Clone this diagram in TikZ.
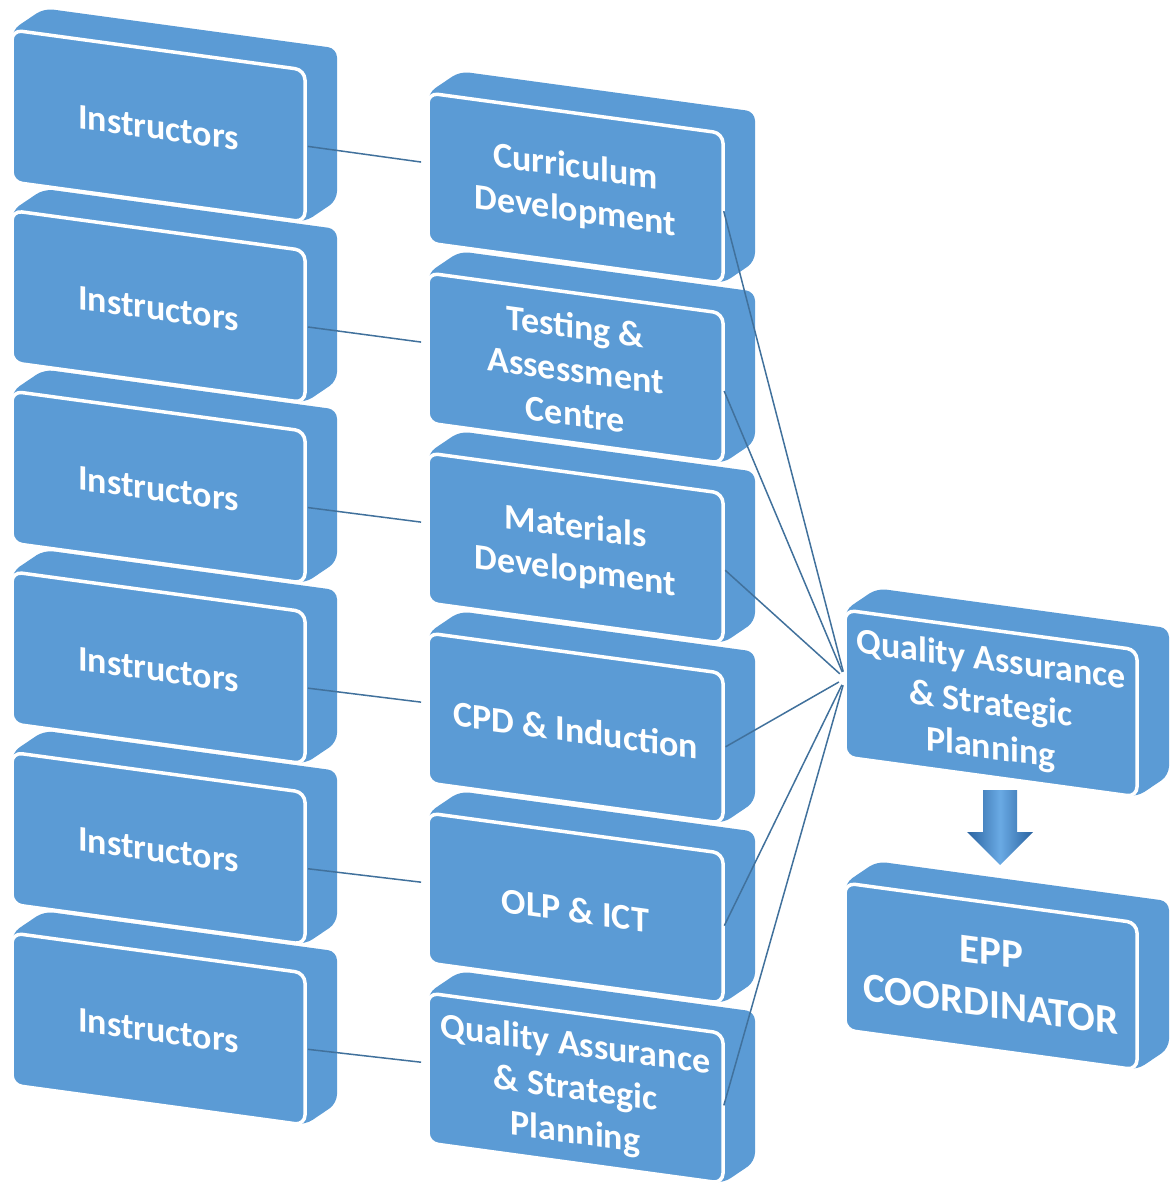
\documentclass[tikz,border=0pt]{standalone}
\usepackage{fontspec}
\setmainfont{Carlito}
\definecolor{boxblue}{HTML}{5B9BD5}
\definecolor{linkblue}{HTML}{41719C}
\definecolor{arrowdark}{HTML}{2A63A0}
\definecolor{arrowlight}{HTML}{6AAAE4}
\tikzset{
  slabback/.style={fill=boxblue, rounded corners=9pt},
  slabfront/.style={fill=boxblue, draw=white, line width=3.5pt, rounded corners=10pt},
  slabtext/.style={text=white, font=\bfseries\fontsize{36}{44}\selectfont, align=center, transform shape, inner sep=0pt},
  bigtext/.style={font=\bfseries\fontsize{41}{52}\selectfont},
  link/.style={draw=linkblue, line width=1.5pt, shorten >=7pt, shorten <=3pt},
}
% #1 name, #2 x, #3 y, #4 width, #5 height, #6 text
\newcommand\slab[7][]{%
  \begin{scope}[shift={(#3,#4)}, yslant=-0.1365]
    \fill[slabback] (0,0) -- (32,-26) -- ({#5+32},-26) -- ({#5+32},{#6-26}) -- (#5,#6) -- (0,#6) -- cycle;
    \draw[slabfront] (0,0) rectangle (#5,#6);
    \node[slabtext,#1] (#2) at ({#5/2},{#6/2+2}) {#7};
    \coordinate (#2-e) at (#5,{#6/2});
    \coordinate (#2-w) at (0,{#6/2-5});
  \end{scope}}
\begin{document}
\begin{tikzpicture}[x=1pt,y=-1pt]
\useasboundingbox (0,0) rectangle (1173,1185);
% left column
\slab{L1}{12}{30}{293}{152}{Instructors}
\slab{L2}{12}{210.6}{293}{152}{Instructors}
\slab{L3}{12}{391.2}{293}{152}{Instructors}
\slab{L4}{12}{571.8}{293}{152}{Instructors}
\slab{L5}{12}{752.4}{293}{152}{Instructors}
\slab{L6}{12}{933}{293}{152}{Instructors}
% middle column
\slab{M1}{428}{93}{295}{150}{Curriculum\\Development}
\slab{M2}{428}{273}{295}{150}{Testing \&\\Assessment\\Centre}
\slab{M3}{428}{453}{295}{150}{Materials\\Development}
\slab{M4}{428}{633}{295}{150}{CPD \& Induction}
\slab{M5}{428}{813}{295}{150}{OLP \& ICT}
\slab{M6}{428}{993}{295}{150}{Quality Assurance\\\& Strategic\\Planning}
% right column
\slab{Q}{845}{610}{292}{147}{Quality Assurance\\\& Strategic\\Planning}
\slab[bigtext]{E}{845}{883}{292}{147}{EPP\\COORDINATOR}
% down arrow
\path[left color=arrowdark, right color=arrowdark, middle color=arrowlight]
  (983,790) -- (1017,790) -- (1017,832) -- (1033,832) -- (1000,865) -- (967,832) -- (983,832) -- cycle;
% connectors
\foreach \i in {1,...,6} {\draw[link] (L\i-e) -- (M\i-w);}
\foreach \i in {1,...,6} {\draw[link] (M\i-e) -- (Q-w);}
\end{tikzpicture}
\end{document}
